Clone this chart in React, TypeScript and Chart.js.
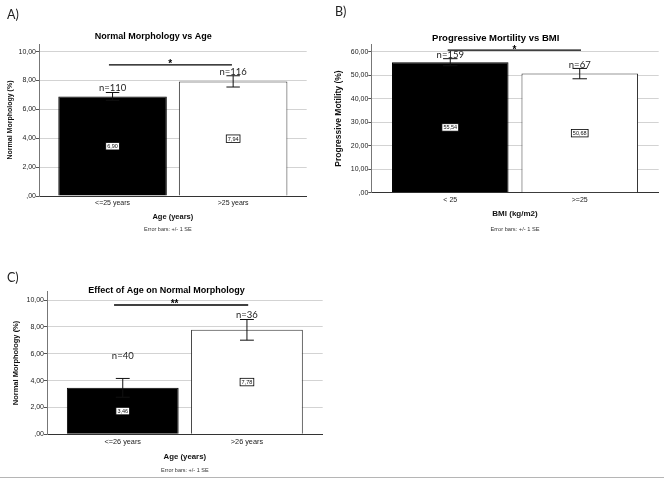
import React, { useEffect, useRef } from 'react';
import { Chart, registerables } from 'chart.js';

Chart.register(...registerables);

const SANS = "'Liberation Sans', Arial, sans-serif";
const NFONT = "Lato, 'Open Sans', sans-serif";

// ---------- Panel A : Normal Morphology vs Age ----------
const catsA = ['<=25 years', '>25 years'];
const meansA = [6.9, 7.94];
const seA = [0.27, 0.39];
const nA = [110, 116];
const nLabelAtA = [7.5, 8.59];
const yTicksA = [0, 2, 4, 6, 8, 10];

// ---------- Panel B : Progressive Motility vs BMI ----------
const catsB = ['< 25', '>=25'];
const meansB = [55.54, 50.68];
const seB = [1.5, 2.2];
const nB = [159, 67];
const nLabelAtB = [58.6, 54.3];
const yTicksB = [0, 10, 20, 30, 40, 50, 60];

// ---------- Panel C : Effect of Age on Normal Morphology ----------
const catsC = ['<=26 years', '>26 years'];
const meansC = [3.46, 7.78];
const seC = [0.7, 0.77];
const nC = [40, 36];
const nLabelAtC = [5.85, 8.88];
const yTicksC = [0, 2, 4, 6, 8, 10];

// significance brackets (A, B, C)
const sigLevel = [9.08, 60.7, 9.63];
const sigFrom = [-0.03, -0.02, -0.07];
const sigTo = [0.99, 1.01, 1.01];
const sigMarkAt = [0.478, 0.496, 0.417];
const sigMark = ['*', '*', '**'];

const fmt = (v: number) => {
  const s = Number(v).toFixed(2).replace('.', ',');
  return s.startsWith('0,') ? s.slice(1) : s;
};

type Cfg = any;

const panels: Cfg[] = [
  {
    left: 0, top: 0, w: 332, h: 240,
    pad: { left: 0, right: 25.3, top: 0, bottom: 14 },
    title: 'Normal Morphology vs Age', titleSize: 9, titlePad: { top: 31.3, bottom: 1.9 },
    yTitle: 'Normal Morphology (%)', yTitleSize: 7, yTitlePad: 5.8, yWidth: 39, yMax: 10.53, yTicks: yTicksA,
    xTitle: 'Age (years)', xTitleSize: 7.5, xTitlePad: 4.5, xHeight: 30, xTickSize: 7, xTickPad: 2.5,
    footSize: 5.5, footDy: 33, footDx: -5,
    cats: catsA, means: meansA, se: seA, n: nA, nAt: nLabelAtA, s: 0,
  },
  {
    left: 332, top: 0, w: 332, h: 240,
    pad: { left: 0.7, right: 5.3, top: 0, bottom: 14.4 },
    title: 'Progressive Mortility vs BMI', titleSize: 9.5, titlePad: { top: 32.3, bottom: 0.6 },
    yTitle: 'Progressive Motility (%)', yTitleSize: 8.5, yTitlePad: 0.5, yWidth: 38.6, yMax: 63.15, yTicks: yTicksB,
    xTitle: 'BMI (kg/m2)', xTitleSize: 8, xTitlePad: 6.8, xHeight: 32.9, xTickSize: 7, xTickPad: 3.1,
    footSize: 5.7, footDy: 36.3, footDx: 0,
    cats: catsB, means: meansB, se: seB, n: nB, nAt: nLabelAtB, s: 1,
  },
  {
    left: 0, top: 240, w: 332, h: 239,
    pad: { left: 10.3, right: 9.3, top: 0, bottom: 12.3 },
    title: 'Effect of Age on Normal Morphology', titleSize: 9, titlePad: { top: 45.3, bottom: -4.4 },
    yTitle: 'Normal Morphology (%)', yTitleSize: 7.5, yTitlePad: 1.2, yWidth: 36.7, yMax: 10.62, yTicks: yTicksC,
    xTitle: 'Age (years)', xTitleSize: 7.8, xTitlePad: 5.3, xHeight: 32.4, xTickSize: 7.3, xTickPad: 3,
    footSize: 5.5, footDy: 35.7, footDx: 0,
    cats: catsC, means: meansC, se: seC, n: nC, nAt: nLabelAtC, s: 2,
  },
];

function makeOverlay(cfg: Cfg) {
  return {
    id: 'overlay',
    afterDatasetsDraw(chart: any) {
      const { ctx, chartArea } = chart;
      const y = chart.scales.y;
      const x = chart.scales.x;
      const meta = chart.getDatasetMeta(0);
      ctx.save();
      meta.data.forEach((bar: any, i: number) => {
        const p = bar.getProps(['x', 'width'], true);
        const cx = p.x;
        const cap = p.width * 0.062;
        const hi = y.getPixelForValue(cfg.means[i] + cfg.se[i]);
        const lo = y.getPixelForValue(cfg.means[i] - cfg.se[i]);
        ctx.strokeStyle = '#111';
        ctx.lineWidth = 1;
        ctx.beginPath();
        ctx.moveTo(cx, hi); ctx.lineTo(cx, lo);
        ctx.moveTo(cx - cap, hi); ctx.lineTo(cx + cap, hi);
        ctx.moveTo(cx - cap, lo); ctx.lineTo(cx + cap, lo);
        ctx.stroke();

        // value box
        const label = fmt(cfg.means[i]);
        ctx.font = `5.5px ${SANS}`;
        const tw = ctx.measureText(label).width;
        const vy = y.getPixelForValue(cfg.means[i] / 2);
        const bw = tw + 3, bh = 7.5;
        ctx.fillStyle = '#fff';
        ctx.fillRect(cx - bw / 2, vy - bh / 2, bw, bh);
        ctx.strokeStyle = '#000';
        ctx.lineWidth = 0.8;
        ctx.strokeRect(cx - bw / 2, vy - bh / 2, bw, bh);
        ctx.fillStyle = '#111';
        ctx.textAlign = 'center';
        ctx.textBaseline = 'middle';
        ctx.fillText(label, cx, vy + 0.3);

        // n label
        ctx.font = `9.5px ${NFONT}`;
        ctx.fillStyle = '#222';
        ctx.fillText('n=' + cfg.n[i], cx, y.getPixelForValue(cfg.nAt[i]));
      });

      // significance bracket
      const s = cfg.s;
      const sy = y.getPixelForValue(sigLevel[s]);
      ctx.strokeStyle = '#000';
      ctx.lineWidth = 1.3;
      ctx.beginPath();
      ctx.moveTo(x.getPixelForValue(sigFrom[s]), sy);
      ctx.lineTo(x.getPixelForValue(sigTo[s]), sy);
      ctx.stroke();
      ctx.font = `bold 10px ${SANS}`;
      ctx.fillStyle = '#000';
      ctx.textAlign = 'center';
      ctx.textBaseline = 'alphabetic';
      ctx.fillText(sigMark[s], x.getPixelForValue(sigMarkAt[s]), sy + 2.5);

      // footnote
      ctx.font = `${cfg.footSize}px ${SANS}`;
      ctx.fillStyle = '#333';
      ctx.textBaseline = 'middle';
      ctx.fillText('Error bars: +/- 1 SE', (chartArea.left + chartArea.right) / 2 + cfg.footDx, chartArea.bottom + cfg.footDy);
      ctx.restore();
    },
  };
}

function Panel({ cfg }: { cfg: Cfg }) {
  const ref = useRef<HTMLCanvasElement>(null);
  useEffect(() => {
    if (!ref.current) return;
    const chart = new Chart(ref.current, {
      type: 'bar',
      data: {
        datasets: [
          {
            data: cfg.means.map((m: number, i: number) => ({ x: i, y: m })),
            backgroundColor: ['#000000', '#ffffff'],
            borderColor: ['#000000', '#333333'],
            borderWidth: 1,
            barPercentage: 0.9,
            categoryPercentage: 1,
          },
        ],
      },
      options: {
        responsive: false,
        animation: false,
        events: [],
        layout: { padding: cfg.pad },
        plugins: {
          legend: { display: false },
          tooltip: { enabled: false },
          title: {
            display: true,
            text: cfg.title,
            color: '#000',
            font: { family: SANS, size: cfg.titleSize, weight: 'bold', lineHeight: 1.2 },
            padding: cfg.titlePad,
          },
        },
        scales: {
          x: {
            type: 'linear',
            offset: false,
            bounds: 'data',
            min: -0.61,
            max: 1.61,
            afterBuildTicks: (s: any) => {
              s.ticks = cfg.cats.map((_: string, i: number) => ({ value: i }));
            },
            afterFit: (s: any) => {
              s.height = cfg.xHeight;
            },
            grid: { display: false, drawTicks: false, tickLength: 0, offset: false },
            border: { display: true, color: '#333', width: 1 },
            ticks: {
              callback: (v: any) => cfg.cats[Math.round(Number(v))],
              color: '#222',
              font: { family: SANS, size: cfg.xTickSize },
              padding: cfg.xTickPad,
              maxRotation: 0,
              autoSkip: false,
            },
            title: {
              display: true,
              text: cfg.xTitle,
              color: '#111',
              font: { family: SANS, size: cfg.xTitleSize, weight: 'bold', lineHeight: 1.2 },
              padding: { top: 0, bottom: cfg.xTitlePad },
            },
          },
          y: {
            min: 0,
            max: cfg.yMax,
            afterBuildTicks: (s: any) => {
              s.ticks = cfg.yTicks.map((v: number) => ({ value: v }));
            },
            afterFit: (s: any) => {
              s.width = cfg.yWidth;
            },
            grid: { color: '#d3d3d3', tickColor: '#555', tickLength: 3, drawTicks: true, lineWidth: 1 },
            border: { display: true, color: '#777', width: 1 },
            ticks: {
              callback: (v: any) => fmt(Number(v)),
              color: '#222',
              font: { family: SANS, size: 7 },
              padding: 0,
            },
            title: {
              display: true,
              text: cfg.yTitle,
              color: '#111',
              font: { family: SANS, size: cfg.yTitleSize, weight: 'bold', lineHeight: 1.2 },
              padding: { top: cfg.yTitlePad, bottom: 0 },
            },
          },
        },
      } as any,
      plugins: [makeOverlay(cfg)],
    });
    return () => chart.destroy();
  }, []);
  return (
    <canvas
      ref={ref}
      width={cfg.w}
      height={cfg.h}
      style={{ position: 'absolute', left: cfg.left, top: cfg.top, width: cfg.w, height: cfg.h }}
    />
  );
}

const letterStyle: React.CSSProperties = {
  position: 'absolute',
  fontFamily: NFONT,
  fontSize: 12.5,
  lineHeight: '15px',
  color: '#222',
};

export default function App() {
  return (
    <div style={{ position: 'fixed', left: 0, top: 0, width: 664, height: 479, background: '#fff', overflow: 'hidden' }}>
      {panels.map((p, i) => (
        <Panel key={i} cfg={p} />
      ))}
      <div style={{ ...letterStyle, left: 7, top: 7 }}>A)</div>
      <div style={{ ...letterStyle, left: 335, top: 4 }}>B)</div>
      <div style={{ ...letterStyle, left: 7, top: 270 }}>C)</div>
      <div style={{ position: 'absolute', left: 0, top: 477, width: 664, height: 1, background: '#b5b5b5' }} />
    </div>
  );
}
